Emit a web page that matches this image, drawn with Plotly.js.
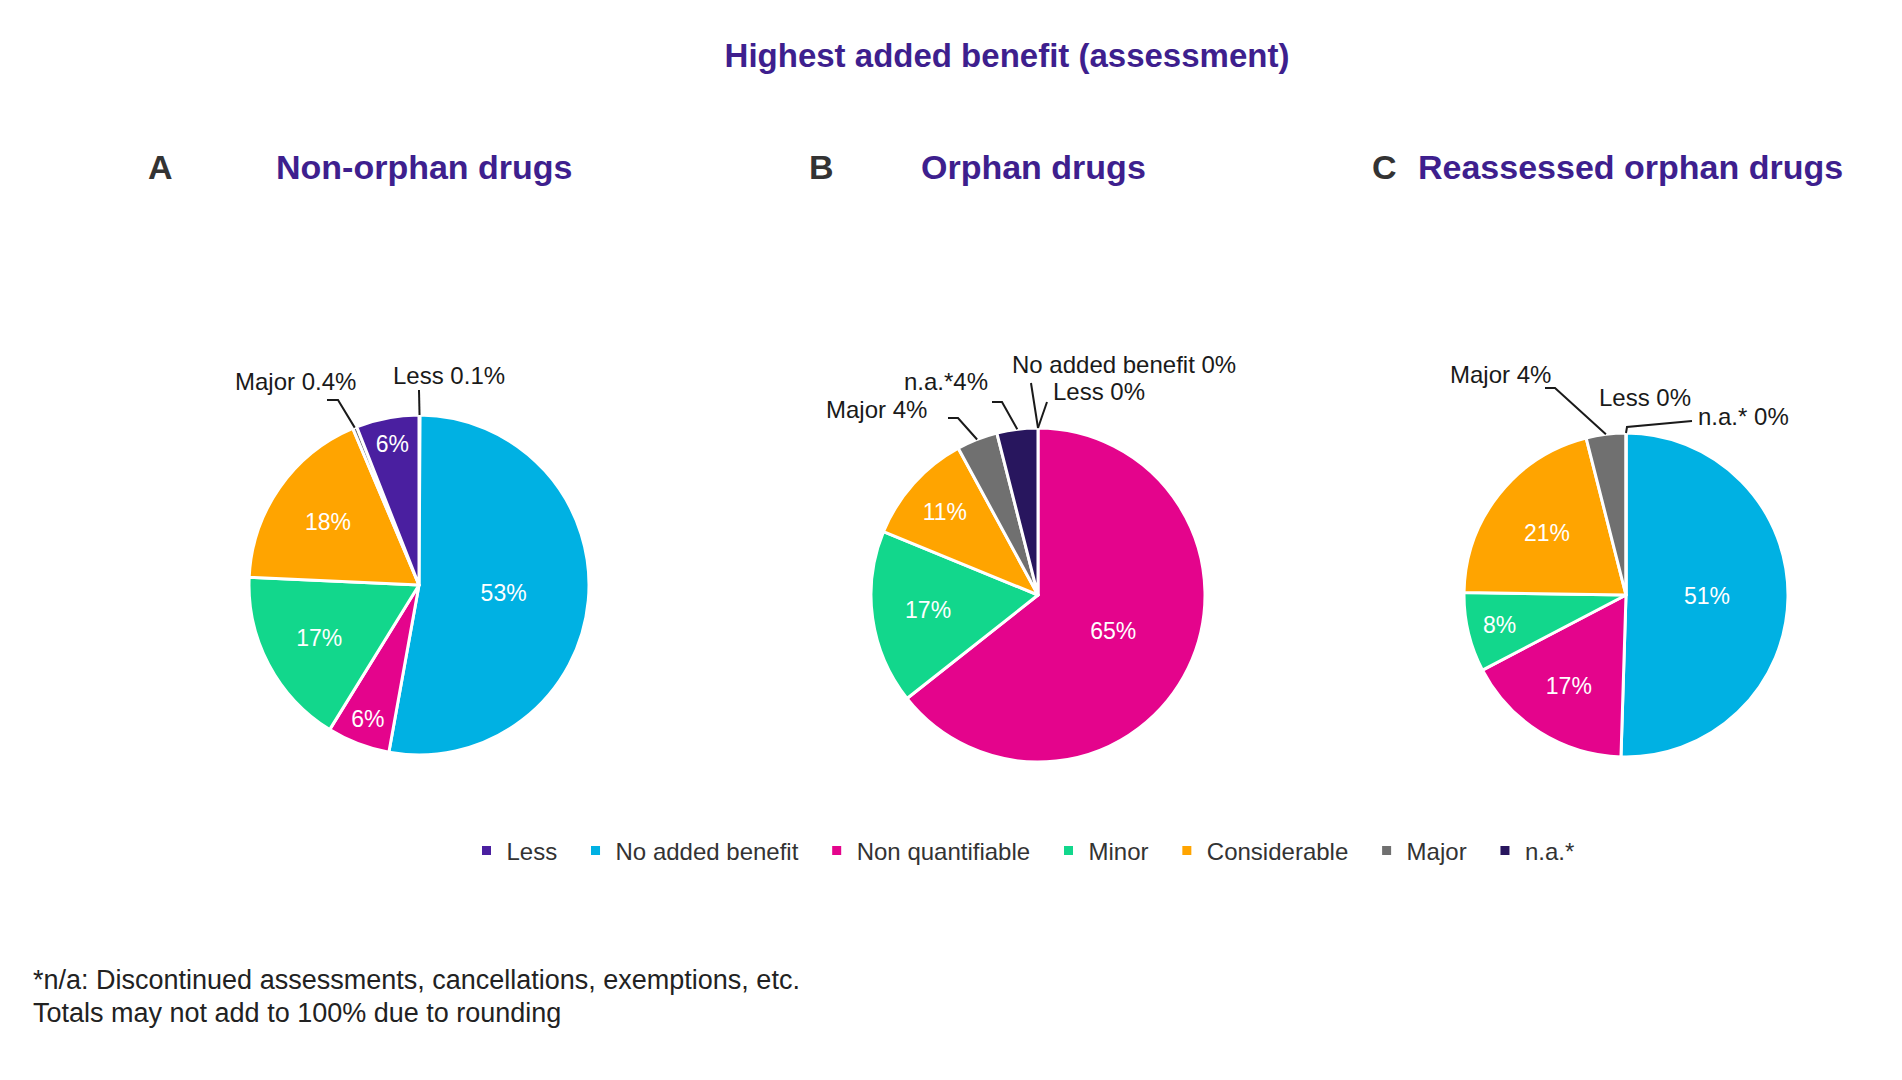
<!DOCTYPE html>
<html>
<head>
<meta charset="utf-8">
<script src="https://cdn.plot.ly/plotly-3.0.1.min.js"></script>
<style>
  html, body { margin: 0; padding: 0; background: #ffffff; }
  #chart { width: 1902px; height: 1080px; }
</style>
</head>
<body>
<div id="chart"></div>
<script>
// ---------------- DATA ----------------
const categories = ["Less", "No added benefit", "Non quantifiable", "Minor", "Considerable", "Major", "n.a.*"];
const valuesA = [0.1, 53, 6, 17, 18, 0.4, 6];   // Non-orphan drugs
const valuesB = [0, 0, 65, 17, 11, 4, 4];       // Orphan drugs
const valuesC = [0, 51, 17, 8, 21, 4, 0];       // Reassessed orphan drugs
const panelLetters = ["A", "B", "C"];
const panelTitles = ["Non-orphan drugs", "Orphan drugs", "Reassessed orphan drugs"];
const mainTitle = "Highest added benefit (assessment)";
const footnotes = ["*n/a: Discontinued assessments, cancellations, exemptions, etc.",
                   "Totals may not add to 100% due to rounding"];
// outside labels: [panel, category index, text]
const outsideLabels = [
  [0, 5, "Major 0.4%"], [0, 0, "Less 0.1%"],
  [1, 5, "Major 4%"], [1, 6, "n.a.*4%"], [1, 1, "No added benefit 0%"], [1, 0, "Less 0%"],
  [2, 5, "Major 4%"], [2, 0, "Less 0%"], [2, 6, "n.a.* 0%"]
];

// ---------------- STYLE / LAYOUT ----------------
const W = 1902, H = 1080;
const FONT = "Liberation Sans, Arial, Helvetica, sans-serif";
const PURPLE = "#3e1f8e";
const palette = ["#4a1fa0", "#00b1e3", "#e4048c", "#12d78c", "#ffa400", "#707070", "#28165e"];
const colorsA = palette.slice(); colorsA[6] = palette[0];   // panel A draws its 6% slice in purple
const panelColors = [colorsA, palette, palette];
const panelValues = [valuesA, valuesB, valuesC];
// pie geometry in pixels: centre x, centre y, radius
const pies = [[419, 585, 170], [1038, 595, 167], [1626, 595, 162]];
const legendPad = "\u00a0\u00a0";   // extra spacing between legend entries

const px = x => x / W;
const py = y => 1 - y / H;

// label text positions (pixels) and leader-line start points
const labelPos = [
  {c: [295, 381], line: [[327, 400], [338, 400]]},
  {c: [449, 376], line: [[419, 390]]},
  {c: [876, 409], line: [[948, 418], [958, 418]]},
  {c: [946, 382], line: [[992, 402], [1002, 402]]},
  {c: [1124, 364], line: [[1031, 383]]},
  {c: [1099, 392], line: [[1047, 402]]},
  {c: [1500, 374], line: [[1545, 388], [1555, 388]]},
  {c: [1645, 397], line: null},
  {c: [1743, 417], line: [[1692, 421], [1627, 427]]}
];

function sliceEdge(panel, idx) {
  const vals = panelValues[panel];
  const tot = vals.reduce((a, b) => a + b, 0);
  let cum = 0;
  for (let i = 0; i < idx; i++) cum += vals[i];
  const mid = (cum + vals[idx] / 2) / tot * 2 * Math.PI;
  const [cx, cy, r] = pies[panel];
  return [cx + r * Math.sin(mid), cy - r * Math.cos(mid)];
}

const traces = [1, 0, 2].map(p => {
  const [cx, cy, r] = pies[p];
  const vals = panelValues[p];
  return {
    type: "pie",
    labels: categories.map(c => c + legendPad),
    values: vals,
    text: vals.map(v => v >= 5 ? v + "%" : ""),
    textinfo: "text",
    textposition: "inside",
    insidetextorientation: "horizontal",
    insidetextfont: {family: FONT, size: 23, color: "#ffffff"},
    sort: false,
    direction: "clockwise",
    rotation: 0,
    hole: 0,
    marker: {colors: panelColors[p], line: {color: "#ffffff", width: 3}},
    domain: {x: [px(cx - r), px(cx + r)], y: [py(cy + r), py(cy - r)]},
    hoverinfo: "label+value",
    showlegend: true
  };
});

const annotations = [];
const shapes = [];
const letterX = [160, 821, 1384];
const titleX = [274, 919, 1416];
for (let i = 0; i < 3; i++) {
  annotations.push({text: "<b>" + panelLetters[i] + "</b>", x: px(letterX[i]), y: py(167),
    xref: "paper", yref: "paper", xanchor: "center", yanchor: "middle", showarrow: false,
    font: {family: FONT, size: 34, color: "#333333"}});
  annotations.push({text: "<b>" + panelTitles[i] + "</b>", x: px(titleX[i]), y: py(167),
    xref: "paper", yref: "paper", xanchor: "left", yanchor: "middle", showarrow: false,
    font: {family: FONT, size: 34, color: PURPLE}});
}
outsideLabels.forEach((lab, k) => {
  const [panel, idx, txt] = lab;
  const pos = labelPos[k];
  annotations.push({text: txt, x: px(pos.c[0]), y: py(pos.c[1]), xref: "paper", yref: "paper",
    xanchor: "center", yanchor: "middle", showarrow: false,
    font: {family: FONT, size: 24, color: "#1a1a1a"}});
  if (pos.line) {
    const tip = sliceEdge(panel, idx);
    const pts = pos.line.concat([tip]);
    const path = pts.map((pt, j) => (j === 0 ? "M" : "L") + px(pt[0]).toFixed(5) + "," + py(pt[1]).toFixed(5)).join(" ");
    shapes.push({type: "path", xref: "paper", yref: "paper", path: path,
      line: {color: "#1a1a1a", width: 2}});
  }
});
footnotes.forEach((t, i) => {
  annotations.push({text: t, x: px(31), y: py(980 + i * 33), xref: "paper", yref: "paper",
    xanchor: "left", yanchor: "middle", showarrow: false,
    font: {family: FONT, size: 27, color: "#222222"}});
});

const layout = {
  width: W, height: H,
  margin: {l: 0, r: 0, t: 0, b: 0},
  paper_bgcolor: "#ffffff",
  plot_bgcolor: "#ffffff",
  font: {family: FONT, color: "#222222"},
  title: {text: "<b>" + mainTitle + "</b>", x: px(1007), xref: "paper", xanchor: "center",
    y: 1 - 55 / H, yref: "container", yanchor: "middle",
    font: {family: FONT, size: 33, color: PURPLE}},
  legend: {orientation: "h", x: px(1030), xanchor: "center", y: py(851), yanchor: "middle",
    font: {family: FONT, size: 24, color: "#333333"}, traceorder: "normal", itemclick: false},
  annotations: annotations,
  shapes: shapes
};

Plotly.newPlot("chart", traces, layout, {displayModeBar: false, staticPlot: true});
</script>
</body>
</html>
